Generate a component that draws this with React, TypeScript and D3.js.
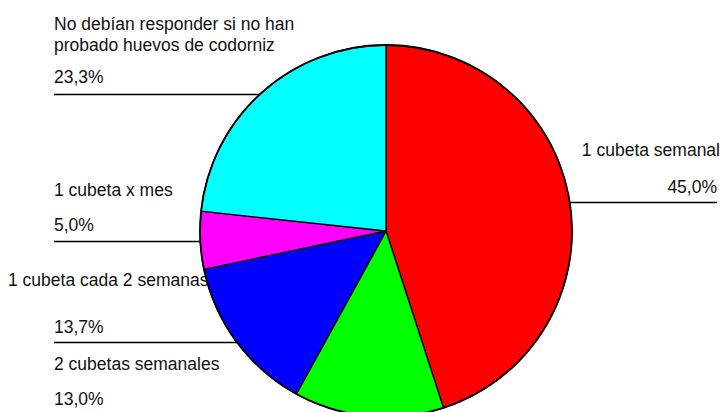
import React from "react";
import * as d3 from "d3";

const categories = [
  "1 cubeta semanal",
  "2 cubetas semanales",
  "1 cubeta cada 2 semanas",
  "1 cubeta x mes",
  "No debían responder si no han probado huevos de codorniz",
];
const values = [45.0, 13.0, 13.7, 5.0, 23.3];
const valueLabels = ["45,0%", "13,0%", "13,7%", "5,0%", "23,3%"];
const colors = ["#ff0000", "#00ff00", "#0000ff", "#ff00ff", "#00ffff"];

const W = 725;
const H = 412;
const cx = 386;
const cy = 231;
const R = 186;
const FS = 17.5;

type LabelLayout = {
  lines: { text: string; x: number; y: number; anchor: "start" | "end" }[];
  lineY: number | null;
  lineX: number;
  side: "left" | "right";
};

const layouts: LabelLayout[] = [
  {
    lines: [
      { text: categories[0], x: 720, y: 156, anchor: "end" },
      { text: valueLabels[0], x: 717, y: 193, anchor: "end" },
    ],
    lineY: 202.5,
    lineX: 717,
    side: "right",
  },
  {
    lines: [
      { text: categories[1], x: 54, y: 370, anchor: "start" },
      { text: valueLabels[1], x: 54, y: 405, anchor: "start" },
    ],
    lineY: null,
    lineX: 54,
    side: "left",
  },
  {
    lines: [
      { text: categories[2], x: 8, y: 286, anchor: "start" },
      { text: valueLabels[2], x: 54, y: 333, anchor: "start" },
    ],
    lineY: 342.5,
    lineX: 54,
    side: "left",
  },
  {
    lines: [
      { text: categories[3], x: 54, y: 196, anchor: "start" },
      { text: valueLabels[3], x: 54, y: 231, anchor: "start" },
    ],
    lineY: 241.5,
    lineX: 54,
    side: "left",
  },
  {
    lines: [
      { text: "No debían responder si no han", x: 54, y: 30, anchor: "start" },
      { text: "probado huevos de codorniz", x: 54, y: 51, anchor: "start" },
      { text: valueLabels[4], x: 54, y: 83, anchor: "start" },
    ],
    lineY: 94.5,
    lineX: 54,
    side: "left",
  },
];

export default function App() {
  const pie = d3
    .pie<number>()
    .sort(null)
    .startAngle(0)
    .endAngle(2 * Math.PI)
    .value((d) => d);
  const arcs = pie(values);
  const arc = d3.arc<d3.PieArcDatum<number>>().innerRadius(0).outerRadius(R);

  const edgeX = (y: number, side: "left" | "right") => {
    const dy = y - cy;
    const dx = Math.sqrt(Math.max(0, R * R - dy * dy));
    return side === "left" ? cx - dx : cx + dx;
  };

  return (
    <svg
      width={W}
      height={H}
      style={{ position: "absolute", left: 0, top: 0, background: "#fff" }}
      fontFamily="'Liberation Sans', Arial, sans-serif"
      fontSize={FS}
    >
      <rect width={W} height={H} fill="#fff" />
      {layouts.map((l, i) => (
        <g key={i}>
          {l.lines.map((t, j) => (
            <text key={j} x={t.x} y={t.y} textAnchor={t.anchor} fill="#111">
              {t.text}
            </text>
          ))}
          {l.lineY !== null && (
            <line
              x1={l.lineX}
              x2={edgeX(l.lineY, l.side)}
              y1={l.lineY}
              y2={l.lineY}
              stroke="#000"
              strokeWidth={1.3}
            />
          )}
        </g>
      ))}
      <g transform={`translate(${cx},${cy})`}>
        {arcs.map((a, i) => (
          <path
            key={i}
            d={arc(a) || ""}
            fill={colors[i]}
            stroke="#000"
            strokeWidth={1.3}
            strokeLinejoin="round"
          />
        ))}
        <circle r={R} fill="none" stroke="#000" strokeWidth={1.8} />
      </g>
    </svg>
  );
}
